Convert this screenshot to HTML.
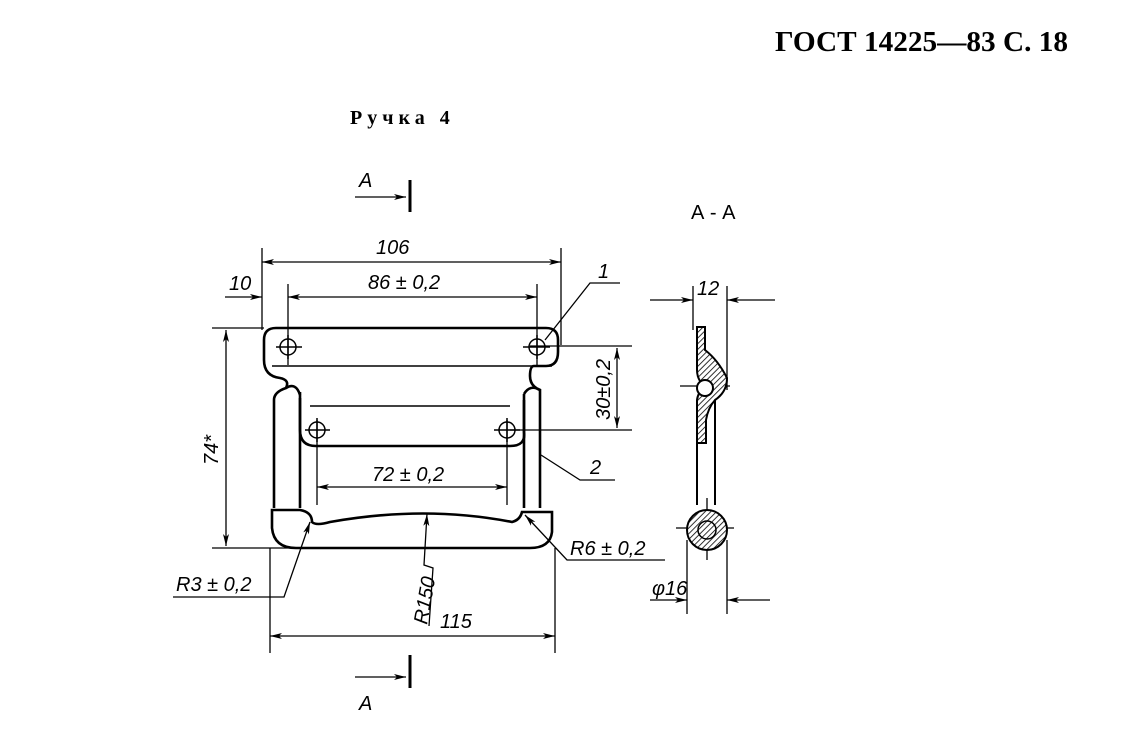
<!DOCTYPE html>
<html><head><meta charset="utf-8"><style>
html,body{margin:0;padding:0;background:#fff;}
svg{display:block}
text{font-family:"Liberation Sans","DejaVu Sans",sans-serif;font-style:italic;fill:#000}
</style></head><body>
<svg width="1123" height="736" viewBox="0 0 1123 736" xmlns="http://www.w3.org/2000/svg">
<defs>
<marker id="a" viewBox="0 0 12 6" refX="12" refY="3" markerWidth="12" markerHeight="6" markerUnits="userSpaceOnUse" orient="auto-start-reverse"><path d="M0,0 L12,3 L0,6 L3,3 Z" fill="#000"/></marker>
<pattern id="h" width="4" height="4" patternUnits="userSpaceOnUse" patternTransform="rotate(45)"><rect width="4" height="4" fill="#fff"/><line x1="0" y1="0" x2="0" y2="4" stroke="#000" stroke-width="1.6"/></pattern>
</defs>
<text x="1068" y="51" text-anchor="end" textLength="293" lengthAdjust="spacingAndGlyphs" style="font-family:'Liberation Serif',serif;font-style:normal;font-weight:bold;font-size:28px">ГОСТ 14225—83 С. 18</text>
<text x="350" y="124" style="font-family:'Liberation Serif',serif;font-style:normal;font-weight:bold;font-size:20px;letter-spacing:5px">Ручка 4</text>

<g stroke="#000" fill="none" stroke-width="1.3">
<line x1="355" y1="197" x2="406" y2="197" marker-end="url(#a)"/>
<line x1="410" y1="180" x2="410" y2="212" stroke-width="3"/>
<line x1="355" y1="677" x2="406" y2="677" marker-end="url(#a)"/>
<line x1="410" y1="655" x2="410" y2="688" stroke-width="3"/>
<line x1="262" y1="248" x2="262" y2="330"/>
<line x1="561" y1="248" x2="561" y2="345"/>
<line x1="288" y1="284" x2="288" y2="365"/>
<line x1="537" y1="284" x2="537" y2="365"/>
<line x1="262" y1="262" x2="561" y2="262" marker-start="url(#a)" marker-end="url(#a)"/>
<line x1="288" y1="297" x2="537" y2="297" marker-start="url(#a)" marker-end="url(#a)"/>
<line x1="225" y1="297" x2="262" y2="297" marker-end="url(#a)"/>
<line x1="212" y1="328" x2="264" y2="328"/>
<line x1="212" y1="548" x2="290" y2="548"/>
<line x1="226" y1="330" x2="226" y2="546" marker-start="url(#a)" marker-end="url(#a)"/>
<line x1="530" y1="346" x2="632" y2="346"/>
<line x1="510" y1="430" x2="632" y2="430"/>
<line x1="617" y1="348" x2="617" y2="428" marker-start="url(#a)" marker-end="url(#a)"/>
<line x1="317" y1="420" x2="317" y2="505"/>
<line x1="507" y1="420" x2="507" y2="505"/>
<line x1="317" y1="487" x2="507" y2="487" marker-start="url(#a)" marker-end="url(#a)"/>
<line x1="270" y1="548" x2="270" y2="653"/>
<line x1="555" y1="548" x2="555" y2="653"/>
<line x1="270" y1="636" x2="555" y2="636" marker-start="url(#a)" marker-end="url(#a)"/>
<polyline points="620,283 590,283 545,340"/>
<polyline points="615,480 580,480 541,455"/>
<polyline points="173,597 284,597 310,522" marker-end="url(#a)"/>
<polyline points="429,626 433,568 424,565 427,514" marker-end="url(#a)"/>
<polyline points="665,560 567,560 525,515" marker-end="url(#a)"/>
</g>

<g stroke="#000" fill="none" stroke-width="2.6">
<path d="M276,328 H546 Q558,328 558,340 V352 Q558,366 546,366 H534 Q530,366 530,376 Q530,386 540,390 V508"/>
<path d="M276,328 Q264,328 264,340 V360 Q264,376 280,378 Q290,380 286,388 Q274,392 274,400 V508"/>
<path d="M300,392 V430 Q300,446 316,446 H510 Q526,446 524,432 V394"/>
<path d="M300,395 Q296,382 286,388"/>
<path d="M524,394 Q530,384 540,390"/>
<line x1="300" y1="398" x2="300" y2="508"/>
<line x1="524" y1="400" x2="524" y2="508"/>
<line x1="310" y1="406" x2="510" y2="406" stroke-width="1.6"/>
<line x1="272" y1="366" x2="552" y2="366" stroke-width="1.6"/>
<path d="M272,510 H300 Q312,512 312,522 Q316,526 330,522 Q425,505 512,522 Q520,520 522,512 H552 V532 Q550,548 530,548 H296 Q274,548 272,528 Z"/>
</g>
<g stroke="#000" fill="none" stroke-width="1.5">
<circle cx="288" cy="347" r="8"/><circle cx="537" cy="347" r="8"/>
<circle cx="317" cy="430" r="8"/><circle cx="507" cy="430" r="8"/>
<path d="M276,347 H302 M288,335 V359 M523,347 H550 M537,335 V359 M305,430 H330 M317,418 V442 M494,430 H520 M507,418 V442"/>
</g>

<g stroke="#000" stroke-width="1.3" fill="none">
<line x1="693" y1="286" x2="693" y2="330"/>
<line x1="727" y1="286" x2="727" y2="390"/>
<line x1="650" y1="300" x2="693" y2="300" marker-end="url(#a)"/>
<line x1="775" y1="300" x2="727" y2="300" marker-end="url(#a)"/>
<line x1="687" y1="540" x2="687" y2="614"/>
<line x1="727" y1="540" x2="727" y2="614"/>
<line x1="650" y1="600" x2="687" y2="600" marker-end="url(#a)"/>
<line x1="770" y1="600" x2="727" y2="600" marker-end="url(#a)"/>
<line x1="680" y1="386" x2="730" y2="386"/>
<line x1="676" y1="528" x2="734" y2="528"/>
<line x1="707" y1="498" x2="707" y2="560"/>
</g>
<g stroke="#000" stroke-width="2">
<path d="M697,327 H705 V350 Q718,360 727,378 Q727,392 715,400 Q708,408 706,420 V443 H697 V400 Q698,392 705,387 Q697,380 697,370 Z" fill="url(#h)"/>
<circle cx="705" cy="388" r="8" fill="#fff"/>
<path d="M697,400 V505 M715,400 V505" fill="none"/>
<circle cx="707" cy="530" r="20" fill="url(#h)"/>
<circle cx="707" cy="530" r="9" fill="none" stroke-width="1.5"/>
</g>

<g font-size="20">
<text x="359" y="187">A</text>
<text x="359" y="710">A</text>
<text x="691" y="219" style="font-style:normal">А - А</text>
<text x="376" y="254">106</text>
<text x="368" y="289">86 ± 0,2</text>
<text x="229" y="290">10</text>
<text x="598" y="278">1</text>
<text x="590" y="474">2</text>
<text x="372" y="481">72 ± 0,2</text>
<text x="176" y="591">R3 ± 0,2</text>
<text x="570" y="555">R6 ± 0,2</text>
<text x="440" y="628">115</text>
<text x="697" y="295">12</text>
<text x="652" y="595">φ16</text>
<text transform="translate(218,465) rotate(-90)">74*</text>
<text transform="translate(610,420) rotate(-90)">30±0,2</text>
<text transform="translate(427,625) rotate(-80)">R150</text>
</g>
</svg>
</body></html>
